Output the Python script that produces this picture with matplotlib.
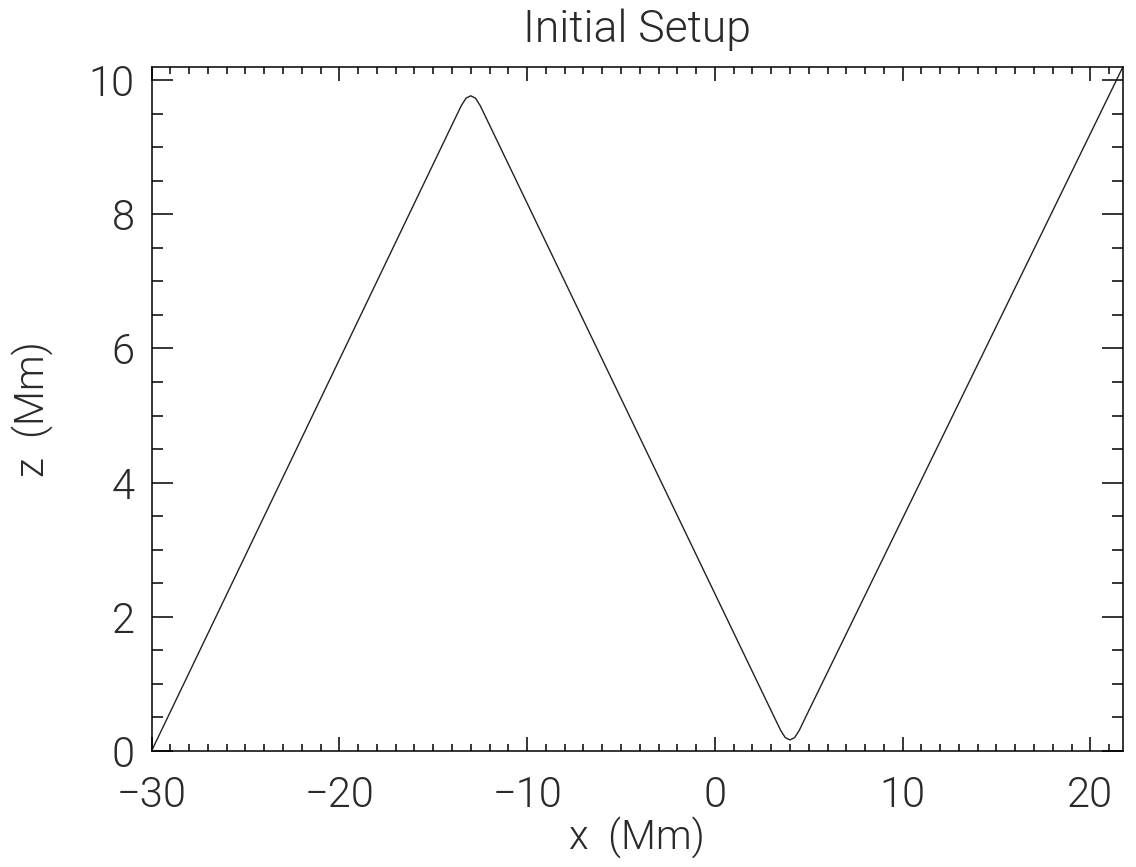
import matplotlib
matplotlib.use("Agg")
import matplotlib.pyplot as plt
from matplotlib.ticker import MultipleLocator

# Data (field line shape, Mm)
x_mm = [-30.0, -14.0, -13.5, -13.25, -13.0, -12.75, -12.5, -12.0,
        3.0, 3.5, 3.75, 4.0, 4.25, 4.5, 5.0, 21.74]
z_mm = [0.0, 9.33, 9.62, 9.73, 9.765, 9.73, 9.62, 9.33,
        0.60, 0.31, 0.20, 0.165, 0.20, 0.31, 0.60, 10.2]

x_ticks = [-30, -20, -10, 0, 10, 20]
y_ticks = [0, 2, 4, 6, 8, 10]

font = dict(family=["Roboto", "DejaVu Sans"], weight=300, color="#2a2a2a")

fig = plt.figure(figsize=(11.36, 8.67), dpi=100)
ax = fig.add_axes([0.1334, 0.1338, 0.9886 - 0.1334, 0.9224 - 0.1338])

ax.plot(x_mm, z_mm, color="#222222", lw=1.0)

ax.set_xlim(-30, 21.74)
ax.set_ylim(0, 10.19)
ax.set_xticks(x_ticks)
ax.set_yticks(y_ticks)
ax.xaxis.set_minor_locator(MultipleLocator(1))
ax.yaxis.set_minor_locator(MultipleLocator(0.5))

ax.tick_params(which="both", direction="in", top=True, right=True, width=1.1, colors="black")
ax.tick_params(axis="x", which="major", length=10, pad=17)
ax.tick_params(axis="x", which="minor", length=5)
ax.tick_params(axis="y", which="major", length=15, pad=12)
ax.tick_params(axis="y", which="minor", length=8)
for s in ax.spines.values():
    s.set_linewidth(1.1)

ax.set_xticklabels([str(t).replace("-", "\u2212") for t in x_ticks], fontsize=30, **font)
ax.set_yticklabels([str(t) for t in y_ticks], fontsize=30, **font)

ax.set_title("Initial Setup", fontsize=32, pad=18, **font)
ax.set_xlabel("x  (Mm)", fontsize=29, labelpad=0, **font)
ax.set_ylabel("z  (Mm)", fontsize=29, labelpad=26, **font)

fig.savefig("out.png", dpi=100)
